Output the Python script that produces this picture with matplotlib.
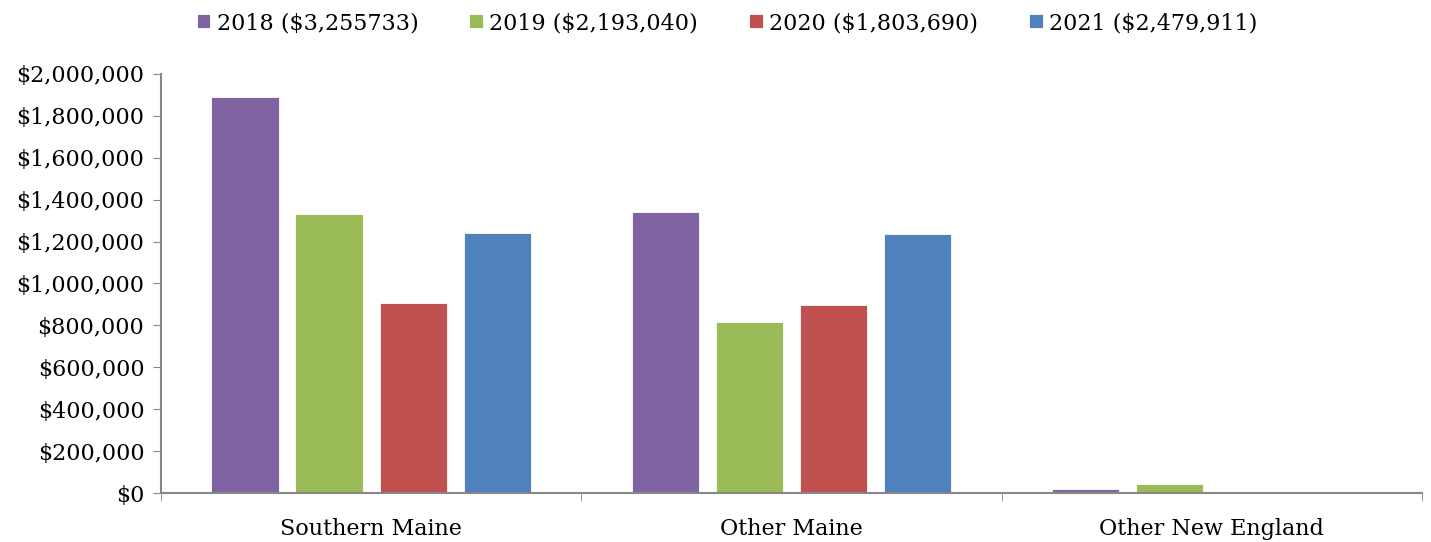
import matplotlib
matplotlib.use("Agg")
import matplotlib.pyplot as plt
import numpy as np
from matplotlib.ticker import FuncFormatter, FixedLocator

# Data
regions = ["Southern Maine", "Other Maine", "Other New England"]
years = ["2018 ($3,255733)", "2019 ($2,193,040)", "2020 ($1,803,690)", "2021 ($2,479,911)"]
v2018 = [1890000, 1341000, 18000]
v2019 = [1332000, 816000, 43000]
v2020 = [907000, 897000, 0]
v2021 = [1241000, 1236000, 0]
series = [v2018, v2019, v2020, v2021]
colors = ["#8064A2", "#9BBB59", "#C0504D", "#4F81BD"]

plt.rcParams['font.family'] = ['DejaVu Serif']

fig = plt.figure(figsize=(14.31, 5.42), dpi=100)
ax = fig.add_axes([0.1125, 0.0904, 0.8812, 0.7731])

x = np.arange(len(regions))
step = 0.2
width = 0.16
for i, vals in enumerate(series):
    ax.bar(x + (i - 1.5) * step, vals, width, color=colors[i], label=years[i],
           edgecolor="white", linewidth=0.6)

ax.set_xlim(-0.5, len(regions) - 0.5)
ax.set_ylim(0, 2000000)
ax.set_yticks(np.arange(0, 2000001, 200000))
ax.yaxis.set_major_formatter(FuncFormatter(lambda v, p: "${:,.0f}".format(v)))

ax.set_xticks(x)
ax.set_xticklabels(regions)
ax.xaxis.set_minor_locator(FixedLocator(np.arange(-0.5, len(regions), 1)))
ax.tick_params(axis="x", which="major", length=0, pad=18, labelsize=16)
ax.tick_params(axis="x", which="minor", length=6, color="#888888", direction="out")
ax.tick_params(axis="y", length=6, color="#888888", labelsize=16, pad=6)

for s in ["top", "right"]:
    ax.spines[s].set_visible(False)
for s in ["left", "bottom"]:
    ax.spines[s].set_color("#888888")
    ax.spines[s].set_linewidth(1.5)

ax.legend(loc="upper center", bbox_to_anchor=(0.449, 1.195), ncol=4, frameon=False,
          fontsize=16, handlelength=0.6, handleheight=0.6, handletextpad=0.3,
          columnspacing=2.3)

fig.savefig("out.png", dpi=100)
